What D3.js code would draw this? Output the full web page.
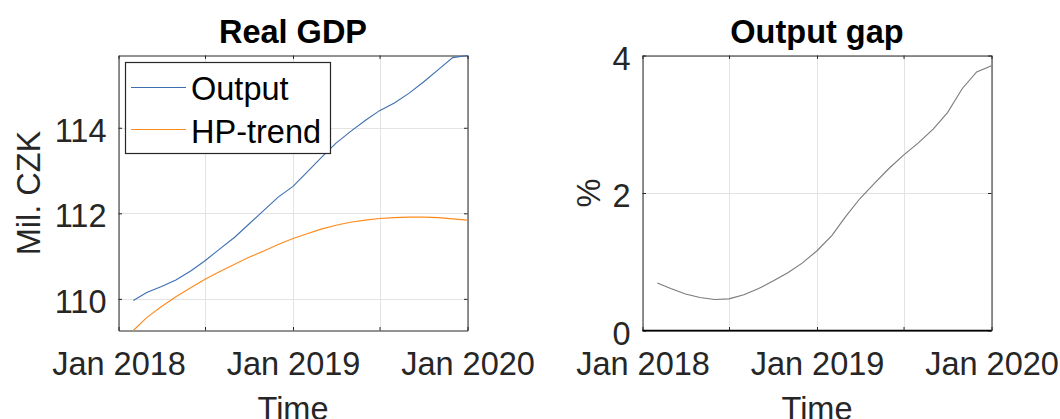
<!DOCTYPE html>
<html>
<head>
<meta charset="utf-8">
<script src="https://cdn.jsdelivr.net/npm/d3@7"></script>
<style>
  html, body { margin: 0; padding: 0; background: #fff; }
  svg { display: block; }
  text { font-family: "Liberation Sans", Arial, Helvetica, sans-serif; }
</style>
</head>
<body>
<svg id="chart" width="1060" height="419"></svg>
<script>
// Monthly observations, Feb 2018 – Jan 2020
const months = [
  "2018-02","2018-03","2018-04","2018-05","2018-06","2018-07",
  "2018-08","2018-09","2018-10","2018-11","2018-12","2019-01",
  "2019-02","2019-03","2019-04","2019-05","2019-06","2019-07",
  "2019-08","2019-09","2019-10","2019-11","2019-12","2020-01"
];

// Real GDP (mil. CZK) and its HP-filter trend
const output = [
  109.96, 110.15, 110.29, 110.44, 110.65, 110.89,
  111.17, 111.44, 111.75, 112.07, 112.38, 112.63,
  112.98, 113.30, 113.64, 113.91, 114.17, 114.40,
  114.58, 114.81, 115.07, 115.36, 115.64, 115.69
];
const hpTrend = [
  109.26, 109.56, 109.82, 110.05, 110.26, 110.46,
  110.64, 110.81, 110.97, 111.12, 111.27, 111.41,
  111.53, 111.63, 111.72, 111.79, 111.84, 111.88,
  111.90, 111.91, 111.91, 111.90, 111.87, 111.84
];

// Output gap (%)
const outputGap = [
  0.69, 0.61, 0.53, 0.48, 0.45, 0.46,
  0.52, 0.61, 0.72, 0.84, 0.98, 1.16,
  1.38, 1.65, 1.92, 2.14, 2.36, 2.55,
  2.73, 2.93, 3.17, 3.52, 3.76, 3.85
];

// Axis ticks and labels
const xTickMonths = ["2018-01","2018-07","2019-01","2019-07","2020-01"];
const xTickLabels = ["Jan 2018","","Jan 2019","","Jan 2020"];
const gdpTicks = [110, 112, 114];
const gapTicks = [0, 2, 4];
const gapDomain = [0, 4];
const seriesNames = ["Output", "HP-trend"];

const parseMonth = d3.timeParse("%Y-%m");
const dates = months.map(parseMonth);
const xTickDates = xTickMonths.map(parseMonth);

const svg = d3.select("#chart");
const AX = "#262626";
const GRID = "#e3e3e3";
const FS = 32.5;
const TICK = 3.5;

function drawPanel(opts) {
  const { left, right, top, bottom, yDomain, yTicks, title, ylabel, ylabelX } = opts;
  const x = d3.scaleTime().domain([xTickDates[0], xTickDates[xTickDates.length - 1]]).range([left, right]);
  const y = d3.scaleLinear().domain(yDomain).range([bottom, top]);
  const g = svg.append("g");

  // grid
  g.append("g").selectAll("line.gx").data(xTickDates).join("line")
    .attr("x1", d => Math.round(x(d)) + 0.5).attr("x2", d => Math.round(x(d)) + 0.5)
    .attr("y1", top).attr("y2", bottom)
    .attr("stroke", GRID).attr("stroke-width", 1);
  g.append("g").selectAll("line.gy").data(yTicks).join("line")
    .attr("x1", left).attr("x2", right)
    .attr("y1", d => Math.round(y(d)) + 0.5).attr("y2", d => Math.round(y(d)) + 0.5)
    .attr("stroke", GRID).attr("stroke-width", 1);

  const fmt = d => xTickLabels[xTickDates.findIndex(t => +t === +d)];

  // axes: ticks inside on all four sides
  const axB = g.append("g").attr("transform", `translate(0,${bottom})`)
    .call(d3.axisBottom(x).tickValues(xTickDates).tickFormat(fmt).tickSizeInner(-TICK).tickSizeOuter(0).tickPadding(0));
  const axT = g.append("g").attr("transform", `translate(0,${top})`)
    .call(d3.axisTop(x).tickValues(xTickDates).tickFormat("").tickSizeInner(-TICK).tickSizeOuter(0));
  const axL = g.append("g").attr("transform", `translate(${left},0)`)
    .call(d3.axisLeft(y).tickValues(yTicks).tickFormat(d3.format("d")).tickSizeInner(-TICK).tickSizeOuter(0).tickPadding(0));
  const axR = g.append("g").attr("transform", `translate(${right},0)`)
    .call(d3.axisRight(y).tickValues(yTicks).tickFormat("").tickSizeInner(-TICK).tickSizeOuter(0));

  [axB, axT, axL, axR].forEach(a => {
    a.select(".domain").attr("stroke", AX).attr("stroke-width", 1);
    a.selectAll(".tick line").attr("stroke", AX).attr("stroke-width", 1);
    a.selectAll("text").attr("fill", AX).style("font-size", FS + "px")
      .style("font-family", '"Liberation Sans", Arial, sans-serif');
  });
  axB.selectAll("text").attr("dy", null).attr("y", 44.5);
  axL.selectAll("text").attr("dy", null).attr("x", -12).attr("y", 13.6);

  // title
  g.append("text").attr("x", (left + right) / 2).attr("y", 42.5)
    .attr("text-anchor", "middle").attr("font-weight", "bold")
    .style("font-size", FS + "px").attr("fill", "#000").text(title);
  // x label
  g.append("text").attr("x", (left + right) / 2).attr("y", 420)
    .attr("text-anchor", "middle").style("font-size", FS + "px").attr("fill", AX).text("Time");
  // y label
  g.append("text")
    .attr("transform", `translate(${ylabelX},${(top + bottom) / 2}) rotate(-90)`)
    .attr("text-anchor", "middle").style("font-size", FS + "px").attr("fill", AX).text(ylabel);

  return { g, x, y };
}

// Left panel: real GDP with HP trend
const p1 = drawPanel({
  left: 118.5, right: 467.5, top: 55.5, bottom: 330.5,
  yDomain: d3.extent(output.concat(hpTrend)), yTicks: gdpTicks,
  title: "Real GDP", ylabel: "Mil. CZK", ylabelX: 40
});
const line1 = d3.line().x((d, i) => p1.x(dates[i])).y(d => p1.y(d));
p1.g.append("path").datum(output).attr("d", line1)
  .attr("fill", "none").attr("stroke", "#3d6fb0").attr("stroke-width", 1.1);
p1.g.append("path").datum(hpTrend).attr("d", line1)
  .attr("fill", "none").attr("stroke", "#ff8a1c").attr("stroke-width", 1.1);

// legend
const lg = p1.g.append("g");
lg.append("rect").attr("x", 125.5).attr("y", 62.5).attr("width", 205).attr("height", 91)
  .attr("fill", "#fff").attr("stroke", AX).attr("stroke-width", 1.2);
const legendColors = ["#3d6fb0", "#ff8a1c"];
seriesNames.forEach((name, i) => {
  const cy = 87.5 + i * 42;
  lg.append("line").attr("x1", 131).attr("x2", 186).attr("y1", cy).attr("y2", cy)
    .attr("stroke", legendColors[i]).attr("stroke-width", 1.1);
  lg.append("text").attr("x", 191).attr("y", 100 + i * 42.5)
    .style("font-size", FS + "px").attr("fill", "#000").text(name);
});

// Right panel: output gap
const p2 = drawPanel({
  left: 642.5, right: 991.5, top: 55.5, bottom: 330.5,
  yDomain: gapDomain, yTicks: gapTicks,
  title: "Output gap", ylabel: "%", ylabelX: 600
});
const line2 = d3.line().x((d, i) => p2.x(dates[i])).y(d => p2.y(d));
p2.g.append("path").datum(outputGap).attr("d", line2)
  .attr("fill", "none").attr("stroke", "#7a7a7a").attr("stroke-width", 1.1);
// zero line
p2.g.append("line").attr("x1", 642.5).attr("x2", 991.5)
  .attr("y1", p2.y(0)).attr("y2", p2.y(0))
  .attr("stroke", "#000").attr("stroke-width", 1.6);
</script>
</body>
</html>
